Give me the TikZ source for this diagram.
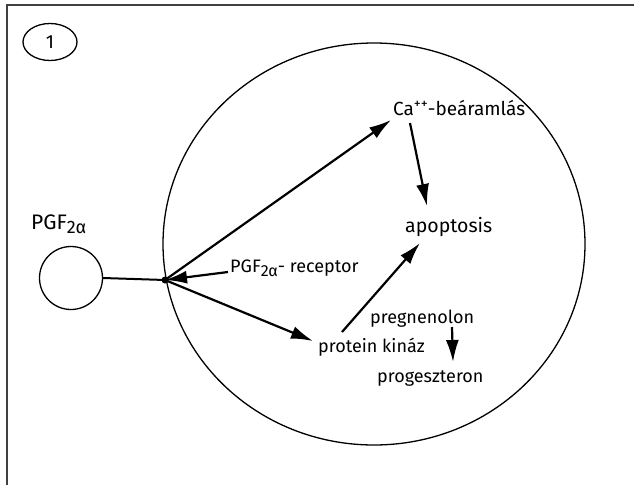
\documentclass[tikz,border=0pt]{standalone}
\usepackage{fontspec}
\setmainfont{Fira Sans}
\usetikzlibrary{arrows.meta,shapes.geometric}
\tikzset{
  lbl/.style={inner sep=0pt, anchor=base west, font=\fontsize{18}{19}\selectfont},
  big/.style={inner sep=0pt, anchor=base west, font=\fontsize{19.5}{21}\selectfont},
  arr/.style={line width=2.2pt, -{Latex[length=22pt,width=13pt]}},
  thin/.style={line width=1.3pt},
}
\newcommand{\subtwoa}[1]{\raisebox{-4.5pt}{\fontsize{#1}{#1}\selectfont 2α}}
\begin{document}
\begin{tikzpicture}[x=1pt,y=-1pt]
\useasboundingbox (0,0) rectangle (634,485);
% frame
\draw[line width=1.8pt, black!75] (7,485) -- (7,5) -- (634,5);
% number tag
\node[draw, thin, ellipse, minimum width=54pt, minimum height=37pt, inner sep=0pt,
      font=\fontsize{19}{19}\selectfont] (tag) at (50,42) {1};
% cell
\node[draw, thin, ellipse, minimum width=422pt, minimum height=402pt, inner sep=0pt] (cell) at (374,244) {};
% ligand
\node[draw, thin, circle, minimum size=63pt, inner sep=0pt] (lig) at (71,278) {};
\node[inner sep=0pt, anchor=base west, font=\fontsize{21}{23}\selectfont] (pgf) at (31,229) {PGF\subtwoa{18}};
% junction
\coordinate (j) at (165,280);
\fill (j) circle (3.5pt);
% labels
\node[lbl, font=\fontsize{19}{20}\selectfont] (ca) at (393,115) {Ca\raisebox{7pt}{\fontsize{14}{14}\selectfont ++}-beáramlás};
\node[big] (apo) at (405,232) {apoptosis};
\node[lbl] (rec) at (230,272) {PGF\subtwoa{16}- receptor};
\node[lbl] (pk) at (318,352) {protein kináz};
\node[lbl] (preg) at (370,323) {pregnenolon};
\node[lbl] (prog) at (377,382) {progeszteron};
% anchor points
\coordinate (caIn) at (391,120);
\coordinate (caOut) at (410,123);
\coordinate (apoTop) at (427,206);
\coordinate (apoBot) at (420,243);
\coordinate (pkOut) at (342,332);
\coordinate (pkIn) at (313,341);
\coordinate (recOut) at (228,272);
\coordinate (pregOut) at (452,327);
\coordinate (progIn) at (453,362);
% connectors
\draw[line width=2pt] (lig.east) -- (j);
\draw[arr] (j) -- (caIn);
\draw[arr] (j) -- (pkIn);
\draw[arr] (recOut) -- (j);
\draw[arr] (caOut) -- (apoTop);
\draw[arr] (pkOut) -- (apoBot);
\draw[arr] (pregOut) -- (progIn);
\end{tikzpicture}
\end{document}
